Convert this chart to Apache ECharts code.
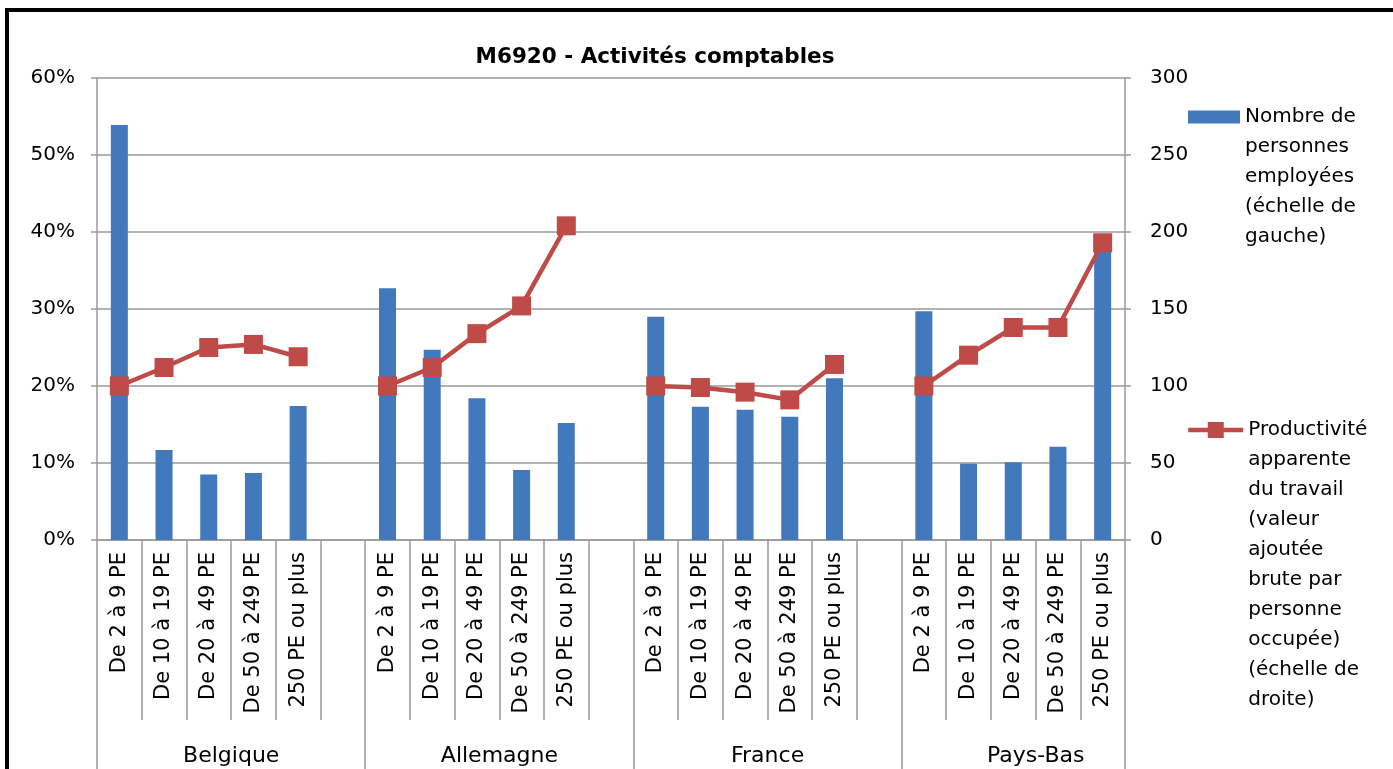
<!DOCTYPE html>
<html>
<head>
<meta charset="utf-8">
<script src="https://cdn.jsdelivr.net/npm/echarts@6/dist/echarts.min.js"></script>
<style>
  html, body { margin: 0; padding: 0; background: #fff; overflow: hidden; }
  .frame {
    position: absolute; left: 5px; top: 8px;
    width: 1600px; height: 900px;
    border: 4px solid #000;
  }
  .chart { position: absolute; left: 0; top: 0; width: 1393px; height: 769px; }
</style>
</head>
<body>
<div class="frame"></div>
<div class="chart"></div>
<script>
const groups = ['Belgique', 'Allemagne', 'France', 'Pays-Bas'];
const sizes = ['De 2 à 9 PE', 'De 10 à 19 PE', 'De 20 à 49 PE', 'De 50 à 249 PE', '250 PE ou plus'];
const leftTicks = ['0%', '10%', '20%', '30%', '40%', '50%', '60%'];
const rightTicks = ['0', '50', '100', '150', '200', '250', '300'];

// part des personnes employées (échelle de gauche)
const empBelgique = [0.539, 0.117, 0.085, 0.087, 0.174];
const empAllemagne = [0.327, 0.247, 0.184, 0.091, 0.152];
const empFrance = [0.290, 0.173, 0.169, 0.160, 0.210];
const empPaysBas = [0.297, 0.099, 0.101, 0.121, 0.380];

// productivité apparente du travail (échelle de droite)
const prodBelgique = [100, 112, 125, 127, 119];
const prodAllemagne = [100, 112, 134, 152, 204];
const prodFrance = [100, 99, 96, 91, 114];
const prodPaysBas = [100, 120, 138, 138, 193];

const empName = 'Nombre de\npersonnes\nemployées\n(échelle de\ngauche)';
const prodName = 'Productivité\napparente\ndu travail\n(valeur\najoutée\nbrute par\npersonne\noccupée)\n(échelle de\ndroite)';

const FONT = 'DejaVu Sans';
const LH = 30;

// slots : 5 tailles + 1 vide par pays (pas de vide après le dernier)
function flatten(parts, blank) {
  const out = [];
  parts.forEach((p, i) => {
    out.push(...p);
    if (i < parts.length - 1) out.push(blank);
  });
  return out;
}
const categories = flatten(groups.map(() => sizes), '');
const empData = flatten([empBelgique, empAllemagne, empFrance, empPaysBas], '-');
const prodData = flatten([prodBelgique, prodAllemagne, prodFrance, prodPaysBas], '-');

// icône alignée sur la première ligne : on ajoute (n-1) lignes vides devant
function topAligned(name) {
  const n = name.split('\n').length;
  return '\n'.repeat(n - 1) + name;
}
function legendTop(name, iconY) {
  const n = name.split('\n').length;
  return iconY - (2 * n - 1) * LH / 2;
}

const chart = echarts.init(document.querySelector('.chart'));
chart.setOption({
  animation: false,
  textStyle: { fontFamily: FONT, color: '#000' },
  title: {
    text: 'M6920 - Activités comptables',
    left: 650, top: 41, textAlign: 'center',
    textStyle: { fontFamily: FONT, fontSize: 21.5, fontWeight: 'bold', color: '#000' }
  },
  grid: { left: 97, right: 268, top: 78, bottom: 229 },
  legend: [{
    data: [empName],
    orient: 'vertical',
    left: 1188, top: legendTop(empName, 117),
    padding: 0,
    itemWidth: 52, itemHeight: 13, itemGap: 0,
    icon: 'rect',
    formatter: topAligned,
    textStyle: { fontFamily: FONT, fontSize: 20, lineHeight: LH, color: '#000' }
  }, {
    data: [prodName],
    orient: 'vertical',
    left: 1186, top: legendTop(prodName, 430),
    padding: 0,
    itemWidth: 55, itemHeight: 20, itemGap: 0,
    formatter: topAligned,
    lineStyle: { width: 4.5, color: '#BE4B48' },
    textStyle: { fontFamily: FONT, fontSize: 20, lineHeight: LH, color: '#000' }
  }],
  xAxis: [{
    type: 'category',
    data: categories,
    axisLine: { lineStyle: { color: '#999', width: 1.5 } },
    axisTick: { show: true, interval: 0, length: 180, lineStyle: { color: '#999', width: 1.5 } },
    axisLabel: {
      interval: 0, rotate: 90, margin: 12,
      fontFamily: FONT, fontSize: 21, color: '#000'
    }
  }, {
    type: 'category',
    position: 'bottom',
    data: categories,
    axisLine: { show: false },
    axisTick: {
      show: true,
      length: 240,
      interval: (i) => i % 6 === 0,
      lineStyle: { color: '#999', width: 1.5 }
    },
    axisLabel: {
      interval: 0, margin: 205,
      fontFamily: FONT, fontSize: 22, color: '#000',
      padding: [0, 0, 0, 45],
      formatter: (v, i) => (i % 6 === 2 ? groups[Math.floor(i / 6)] : '')
    }
  }],
  yAxis: [{
    type: 'value', min: 0, max: 0.6, interval: 0.1,
    axisLine: { show: true, lineStyle: { color: '#999', width: 1.5 } },
    axisTick: { show: true, length: 6, lineStyle: { color: '#999', width: 1.5 } },
    splitLine: { lineStyle: { color: '#999', width: 1.5 } },
    axisLabel: {
      margin: 22, fontFamily: FONT, fontSize: 20, color: '#000',
      formatter: (v) => leftTicks[Math.round(v * 10)]
    }
  }, {
    type: 'value', min: 0, max: 300, interval: 50,
    axisLine: { show: true, lineStyle: { color: '#999', width: 1.5 } },
    axisTick: { show: true, length: 6, lineStyle: { color: '#999', width: 1.5 } },
    splitLine: { show: false },
    axisLabel: {
      margin: 25, fontFamily: FONT, fontSize: 20, color: '#000',
      formatter: (v) => rightTicks[Math.round(v / 50)]
    }
  }],
  series: [{
    name: empName,
    type: 'bar',
    data: empData,
    barWidth: 17,
    itemStyle: { color: '#4279BD' }
  }, {
    name: prodName,
    type: 'line',
    yAxisIndex: 1,
    data: prodData,
    connectNulls: false,
    symbol: 'rect',
    symbolSize: 19,
    lineStyle: { color: '#BE4B48', width: 4.5 },
    itemStyle: { color: '#BE4B48' }
  }]
});
</script>
</body>
</html>
